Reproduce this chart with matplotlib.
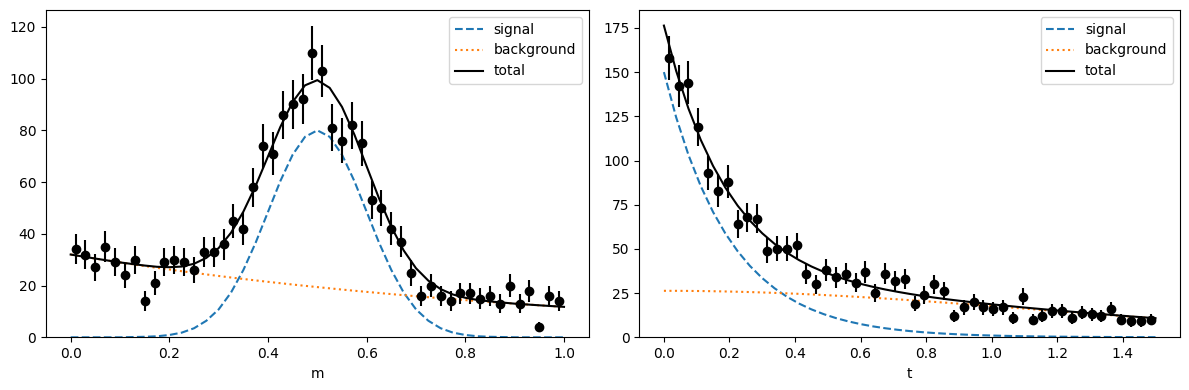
import matplotlib
matplotlib.use("Agg")
import matplotlib.pyplot as plt
import numpy as np

# --- left panel: mass spectrum (50 bins on [0, 1]) ---
m_centers = np.arange(0.01, 1.0, 0.02)
m_counts = [34, 32, 27, 35, 29, 24, 30, 14, 21, 29,
            30, 29, 26, 33, 33, 36, 45, 42, 58, 74,
            71, 86, 90, 92, 110, 103, 81, 76, 82, 75,
            53, 50, 42, 37, 25, 16, 20, 16, 14, 17,
            17, 15, 16, 13, 20, 13, 18, 4, 16, 14]

# model curves on a 0.025 grid
m_grid = np.linspace(0.0, 1.0, 41)
m_signal = [0.0, 0.0, 0.0, 0.0, 0.0, 0.1, 0.2, 0.4, 0.9, 1.8,
            3.5, 6.4, 10.8, 17.3, 26.0, 36.6, 48.5, 60.4, 70.6, 77.5,
            80.0,
            77.5, 70.6, 60.4, 48.5, 36.6, 26.0, 17.3, 10.8, 6.4, 3.5,
            1.8, 0.9, 0.4, 0.2, 0.1, 0.0, 0.0, 0.0, 0.0, 0.0]
m_background = [32.00, 31.21, 30.44, 29.69, 28.95, 28.24, 27.54, 26.86, 26.20, 25.55,
                24.92, 24.31, 23.71, 23.12, 22.55, 21.99, 21.45, 20.92, 20.40, 19.90,
                19.41, 18.93, 18.46, 18.00, 17.56, 17.13, 16.70, 16.29, 15.89, 15.50,
                15.12, 14.74, 14.38, 14.02, 13.68, 13.34, 13.01, 12.69, 12.37, 12.07,
                11.77]

# --- right panel: decay time (50 bins on [0, 1.5]) ---
t_centers = np.arange(0.015, 1.5, 0.03)
t_counts = [158, 142, 144, 119, 93, 83, 88, 64, 68, 67,
            49, 50, 50, 52, 36, 30, 38, 34, 36, 31,
            37, 25, 36, 32, 33, 19, 24, 30, 26, 12,
            17, 20, 17, 16, 17, 11, 23, 10, 12, 15,
            15, 11, 14, 13, 12, 16, 10, 9, 9, 10]

t_grid = np.linspace(0.0, 1.5, 41)
t_signal = [150.0, 124.35, 103.09, 85.47, 70.86, 58.74, 48.70, 40.37, 33.47, 27.75,
            23.00, 19.07, 15.81, 13.11, 10.87, 9.01, 7.47, 6.19, 5.13, 4.26,
            3.53, 2.92, 2.43, 2.01, 1.67, 1.38, 1.15, 0.95, 0.79, 0.65,
            0.54, 0.45, 0.37, 0.31, 0.26, 0.21, 0.18, 0.15, 0.12, 0.10,
            0.08]
t_background = [26.30, 26.29, 26.24, 26.17, 26.07, 25.93, 25.77, 25.59, 25.37, 25.13,
                24.87, 24.58, 24.26, 23.92, 23.56, 23.18, 22.78, 22.37, 21.93, 21.49,
                21.02, 20.54, 20.04, 19.55, 19.04, 18.53, 18.01, 17.49, 16.95, 16.41,
                15.88, 15.35, 14.81, 14.28, 13.75, 13.23, 12.72, 12.21, 11.70, 11.21,
                10.73]

panels = [
    ("m", m_centers, m_counts, m_grid, m_signal, m_background),
    ("t", t_centers, t_counts, t_grid, t_signal, t_background),
]

fig = plt.figure(figsize=(11.89, 3.9), dpi=100)
axes = [fig.add_axes([0.0387, 0.1351, 0.4564, 0.8392]),
        fig.add_axes([0.5377, 0.1351, 0.4548, 0.8392])]

for ax, (xlabel, centers, counts, grid, sig, bkg) in zip(axes, panels):
    sig = np.asarray(sig)
    bkg = np.asarray(bkg)
    counts = np.asarray(counts)
    ax.plot(grid, sig, "--", color="C0", label="signal")
    ax.plot(grid, bkg, ":", color="C1", label="background")
    ax.plot(grid, sig + bkg, "-", color="k", label="total")
    ax.errorbar(centers, counts, yerr=np.sqrt(counts), fmt="ok")
    ax.set_ylim(bottom=0)
    ax.set_xlabel(xlabel)
    ax.legend(loc="upper right")

fig.savefig("out.png", dpi=100)
